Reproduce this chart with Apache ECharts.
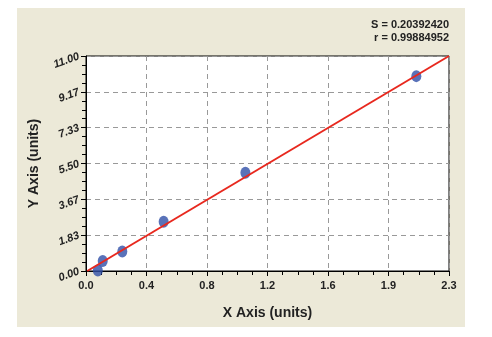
<!DOCTYPE html>
<html>
<head>
<meta charset="utf-8">
<script src="https://cdn.jsdelivr.net/npm/echarts@6/dist/echarts.min.js"></script>
<style>
html,body{margin:0;padding:0;background:#fff;}
#chart{width:492px;height:337px;}
</style>
</head>
<body>
<div id="chart"></div>
<script>
// Data
var pointX = [0.075, 0.106, 0.23, 0.492, 1.01, 2.093];
var pointY = [0.03, 0.51, 1.0, 2.52, 5.03, 9.97];
var fitX = [0.008, 2.3];
var fitY = [0.0, 11.0];
var xTickLabels = ['0.0', '0.4', '0.8', '1.2', '1.6', '1.9', '2.3'];
var yTickLabels = ['0.00', '1.83', '3.67', '5.50', '7.33', '9.17', '11.00'];
var statS = 'S = 0.20392420';
var statR = 'r = 0.99884952';
var xMax = 2.3, yMax = 11;

var chart = echarts.init(document.getElementById('chart'), null, {renderer: 'canvas'});
var xStep = xMax / 6, yStep = yMax / 6;
var font = 'Liberation Sans, Arial, sans-serif';

chart.setOption({
  backgroundColor: '#ffffff',
  animation: false,
  graphic: [
    {type: 'rect', z: -10, silent: true, shape: {x: 17, y: 8, width: 448, height: 319}, style: {fill: '#ECE9D8'}},
    {type: 'text', right: 43, top: 19, style: {text: statS, font: 'bold 11px ' + font, fill: '#222', textAlign: 'right'}},
    {type: 'text', right: 43, top: 32, style: {text: statR, font: 'bold 11px ' + font, fill: '#222', textAlign: 'right'}}
  ],
  grid: {left: 86, right: 43, top: 56, bottom: 66, show: true, backgroundColor: '#ffffff', borderColor: '#000', borderWidth: 1},
  xAxis: {
    type: 'value', min: 0, max: xMax, interval: xStep,
    name: 'X Axis (units)', nameLocation: 'middle', nameGap: 35,
    nameTextStyle: {fontFamily: font, fontWeight: 'bold', fontSize: 14, color: '#222'},
    axisLine: {lineStyle: {color: '#000', width: 1}},
    axisTick: {show: true, length: 5, lineStyle: {color: '#000'}},
    minorTick: {show: true, splitNumber: 4, length: 4, lineStyle: {color: '#000'}},
    splitLine: {show: true, lineStyle: {color: '#999', type: [5, 4], width: 1}},
    axisLabel: {margin: 9, fontFamily: font, fontWeight: 'bold', fontSize: 11, color: '#222',
      formatter: function (v) { return xTickLabels[Math.round(v / xStep)]; }}
  },
  yAxis: {
    type: 'value', min: 0, max: yMax, interval: yStep,
    name: 'Y Axis (units)', nameLocation: 'middle', nameGap: 42,
    nameTextStyle: {fontFamily: font, fontWeight: 'bold', fontSize: 14, color: '#222'},
    axisLine: {show: true, lineStyle: {color: '#000', width: 1}},
    axisTick: {show: true, length: 5, lineStyle: {color: '#000'}},
    minorTick: {show: true, splitNumber: 4, length: 4, lineStyle: {color: '#000'}},
    splitLine: {show: true, lineStyle: {color: '#999', type: [5, 4], width: 1}},
    axisLabel: {margin: 7, rotate: 20, fontFamily: font, fontWeight: 'bold', fontStyle: 'italic', fontSize: 11, color: '#222',
      formatter: function (v) { return yTickLabels[Math.round(v / yStep)]; }}
  },
  series: [
    {
      type: 'scatter', symbol: 'circle', symbolSize: [10, 12], z: 3,
      itemStyle: {color: '#2F4FA8'},
      data: pointX.map(function (x, i) { return [x, pointY[i]]; })
    },
    {
      type: 'line', symbol: 'none', z: 4, clip: false,
      lineStyle: {color: '#E8281E', width: 2},
      data: fitX.map(function (x, i) { return [x, fitY[i]]; })
    }
  ]
});
</script>
</body>
</html>
